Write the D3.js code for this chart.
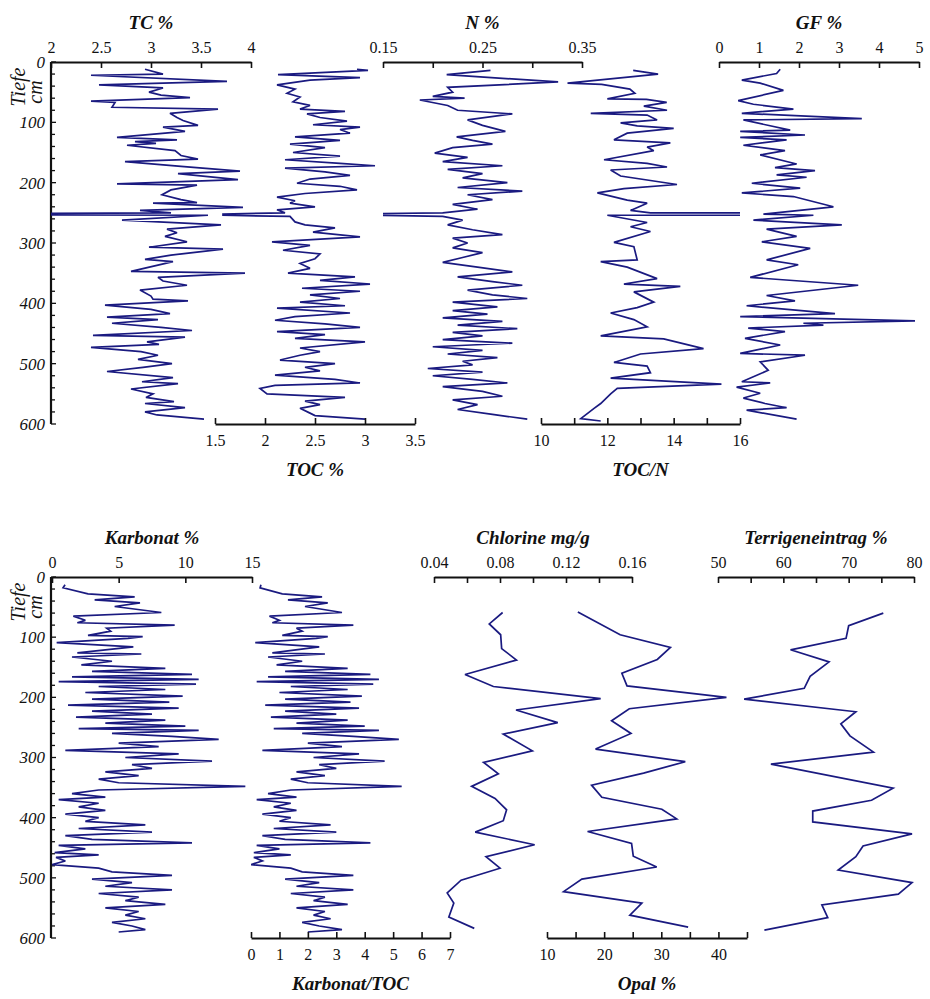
<!DOCTYPE html>
<html>
<head>
<meta charset="utf-8">
<script src="https://cdn.jsdelivr.net/npm/d3@7"></script>
<style>
  html, body { margin: 0; padding: 0; background: #ffffff; }
  svg { display: block; }
  text { font-family: "Liberation Serif", "DejaVu Serif", serif; fill: #111; }
</style>
</head>
<body>
<svg id="chart" width="930" height="999"></svg>
<script>
// ---------------- DATA (depth cm, value) ----------------
const tcData = [[12,2.94],[20,3.12],[22,2.40],[32,3.76],[38,2.48],[43,3.12],[50,2.98],[55,3.1],[59,3.39],[65,2.40],[67,2.64],[75,2.61],[78,3.67],[85,3.19],[92,3.26],[97,3.32],[105,3.47],[108,3.12],[115,3.34],[125,2.66],[129,3.26],[132,2.84],[135,3.05],[138,2.76],[147,3.24],[155,3.3],[161,3.47],[165,2.74],[173,3.3],[181,3.89],[185,3.27],[195,3.87],[202,2.66],[204,3.46],[212,3.2],[220,3.11],[228,3.3],[233,3.46],[234,3.02],[241,3.92],[246,2.89],[250,3.2],[252,0],[253,0],[254,3.57],[262,2.71],[270,3.70],[277,3.16],[283,3.26],[289,3.14],[298,3.36],[307,2.98],[310,3.72],[320,3.2],[327,2.94],[331,3.22],[347,2.80],[350,3.94],[357,3.07],[363,3.12],[370,3.36],[378,2.89],[388,3.0],[393,3.02],[396,3.37],[403,2.54],[410,3.0],[417,3.19],[423,2.56],[427,3.07],[433,2.61],[440,3.1],[445,3.41],[453,2.42],[456,3.34],[464,2.96],[468,3.08],[473,2.40],[480,2.9],[486,3.07],[493,2.87],[500,3.21],[506,2.92],[513,2.56],[523,3.22],[530,2.91],[533,3.27],[542,2.80],[550,3.02],[556,2.95],[563,3.23],[566,2.94],[573,3.34],[580,2.94],[585,3.06],[592,3.53]];

const tocData = [[12,2.92],[14,3.03],[21,2.13],[26,2.95],[30,2.45],[38,2.12],[45,2.30],[52,2.22],[58,2.35],[66,2.28],[72,2.45],[78,2.35],[82,2.80],[86,2.42],[92,2.55],[98,2.82],[104,2.48],[108,2.95],[112,2.75],[118,2.85],[124,2.30],[130,2.75],[136,2.25],[142,2.60],[150,2.28],[156,2.75],[162,2.20],[168,2.75],[172,3.10],[176,2.20],[182,2.60],[188,2.85],[194,2.45],[201,2.32],[206,2.75],[212,2.92],[218,2.40],[224,2.12],[230,2.30],[234,2.25],[240,2.50],[245,2.12],[250,2.20],[252,1.58],[254,1.58],[256,2.25],[265,2.30],[270,2.40],[275,2.70],[282,2.48],[290,2.95],[298,2.07],[304,2.45],[312,2.18],[318,2.55],[326,2.50],[334,2.35],[342,2.45],[350,2.23],[356,2.90],[362,2.55],[368,3.05],[375,2.37],[380,2.95],[386,2.45],[392,2.75],[398,2.35],[404,2.80],[408,2.12],[416,2.85],[422,2.30],[428,2.10],[434,2.60],[440,2.95],[447,2.12],[452,2.60],[458,2.30],[464,3.00],[474,2.35],[480,2.55],[486,2.35],[494,2.15],[500,2.70],[506,2.40],[512,2.55],[519,2.10],[526,2.70],[532,2.95],[536,2.10],[541,1.95],[550,2.02],[556,2.80],[562,2.40],[568,2.55],[574,2.35],[582,2.45],[586,2.50],[592,3.00]];

const nData = [[14,0.258],[21,0.214],[33,0.326],[42,0.215],[50,0.22],[57,0.20],[60,0.232],[63,0.187],[72,0.215],[80,0.225],[86,0.28],[96,0.235],[105,0.25],[115,0.273],[124,0.224],[130,0.24],[136,0.26],[142,0.22],[151,0.202],[158,0.235],[165,0.21],[172,0.27],[178,0.215],[185,0.25],[192,0.23],[200,0.275],[208,0.225],[214,0.29],[220,0.235],[228,0.26],[236,0.22],[244,0.245],[250,0.21],[252,0.10],[253,0.10],[256,0.21],[262,0.23],[270,0.215],[278,0.24],[286,0.27],[292,0.22],[300,0.235],[308,0.22],[316,0.25],[324,0.23],[332,0.21],[340,0.245],[348,0.28],[356,0.225],[364,0.26],[370,0.29],[378,0.235],[386,0.26],[392,0.295],[398,0.22],[406,0.265],[412,0.22],[418,0.255],[424,0.21],[430,0.27],[436,0.225],[442,0.285],[448,0.22],[454,0.25],[460,0.21],[466,0.28],[472,0.20],[478,0.25],[484,0.215],[490,0.265],[496,0.23],[502,0.24],[508,0.195],[514,0.25],[520,0.20],[526,0.24],[532,0.275],[538,0.21],[546,0.25],[554,0.27],[560,0.22],[568,0.245],[576,0.225],[584,0.26],[592,0.295]];

const tocnData = [[14,12.78],[20,13.53],[35,10.8],[37,11.83],[45,12.68],[52,12.83],[61,12.0],[62,13.18],[67,13.79],[73,13.1],[80,13.8],[85,11.5],[88,13.2],[96,13.5],[101,12.4],[106,12.9],[110,14.0],[118,12.6],[129,12.2],[134,13.9],[141,13.2],[147,13.4],[162,11.9],[168,13.2],[174,13.8],[179,12.1],[189,12.4],[203,14.1],[210,12.5],[217,11.7],[229,12.6],[234,13.2],[246,12.7],[250,13.3],[252,99],[253,99],[254,12.0],[266,13.2],[273,12.7],[281,13.3],[299,12.2],[306,12.8],[328,12.9],[331,11.8],[340,12.6],[359,13.5],[368,12.5],[372,14.2],[381,12.8],[398,13.4],[407,12.9],[416,12.1],[427,12.8],[439,13.2],[454,11.8],[459,13.7],[475,14.9],[484,13.0],[498,12.2],[504,13.2],[515,13.3],[524,12.1],[534,15.44],[541,12.3],[550,12.1],[566,11.8],[574,11.6],[591,11.2],[595,11.8]];

const gfData = [[12,1.53],[19,1.44],[30,0.57],[35,1.03],[47,1.61],[64,0.48],[70,0.86],[78,1.86],[85,0.57],[94,3.57],[96,0.61],[113,1.78],[115,0.53],[121,2.15],[125,0.53],[129,1.69],[138,0.61],[147,1.65],[154,1.03],[169,1.94],[175,1.4],[180,2.4],[187,1.44],[191,2.19],[201,0.82],[209,2.03],[217,0.57],[223,1.86],[240,2.86],[252,1.11],[254,2.36],[262,0.86],[270,3.07],[277,1.19],[289,1.94],[298,1.07],[309,2.28],[328,1.19],[336,1.98],[357,0.78],[370,3.48],[387,1.19],[396,1.9],[404,0.69],[417,2.9],[422,0.53],[429,4.9],[433,2.11],[436,2.61],[441,0.73],[447,1.65],[458,0.65],[469,1.53],[483,0.53],[486,2.15],[497,1.03],[511,1.23],[530,0.57],[532,1.28],[539,0.44],[549,1.03],[557,0.61],[566,1.15],[573,1.69],[577,0.69],[592,1.94]];

const karbData = [[13,0.98],[18,0.83],[28,2.7],[33,6.2],[38,3.2],[43,6.6],[49,4.7],[59,8.2],[65,1.6],[72,2.5],[76,1.9],[80,9.2],[85,4.1],[90,4.4],[97,2.7],[99,6.8],[102,5.7],[109,0.35],[116,6.1],[126,1.9],[128,6.7],[133,1.5],[140,4.5],[146,2.2],[152,8.5],[157,3.0],[162,10.5],[166,1.5],[170,11.0],[174,0.5],[178,10.8],[182,3.5],[187,8.5],[192,2.5],[198,9.8],[203,3.0],[208,8.8],[213,1.2],[218,9.5],[223,3.0],[228,7.5],[233,1.8],[238,8.5],[243,4.0],[248,10.0],[252,2.0],[255,11.0],[260,4.5],[265,9.0],[270,12.5],[276,5.0],[282,8.0],[288,1.0],[294,9.5],[300,5.5],[306,12.0],[312,6.0],[318,7.5],[324,4.0],[330,6.5],[336,3.5],[342,5.0],[348,14.5],[354,3.5],[360,1.5],[366,4.0],[370,0.5],[376,3.5],[382,2.0],[388,4.0],[394,1.0],[400,3.5],[406,2.5],[412,7.0],[418,2.0],[424,7.5],[430,1.0],[436,3.0],[442,10.5],[446,0.5],[452,2.5],[458,0.2],[462,3.5],[466,0.3],[472,1.0],[478,0.0],[484,3.5],[490,4.5],[496,9.0],[502,3.0],[508,6.0],[514,4.0],[520,9.0],[526,3.5],[532,6.5],[538,5.5],[544,8.5],[550,4.0],[556,6.5],[562,5.5],[568,7.0],[574,4.5],[580,6.0],[586,7.0],[590,5.0]];

const karbTocData = [[13,0.35],[18,0.32],[28,1.1],[33,2.5],[38,1.3],[43,2.7],[49,1.9],[59,3.2],[65,0.65],[72,1.0],[76,0.75],[80,3.6],[85,1.6],[90,1.8],[97,1.1],[99,2.7],[102,2.3],[109,0.15],[116,2.4],[126,0.75],[128,2.6],[133,0.6],[140,1.8],[146,0.9],[152,3.4],[157,1.2],[162,4.2],[166,0.6],[170,4.5],[174,0.2],[178,4.3],[182,1.4],[187,3.4],[192,1.0],[198,3.9],[203,1.2],[208,3.5],[213,0.5],[218,3.8],[223,1.2],[228,3.0],[233,0.7],[238,3.4],[243,1.6],[248,4.0],[252,0.8],[255,4.5],[260,1.8],[265,3.6],[270,5.2],[276,2.0],[282,3.2],[288,0.4],[294,3.8],[300,2.2],[306,4.7],[312,2.4],[318,3.0],[324,1.6],[330,2.6],[336,1.4],[342,2.0],[348,5.3],[354,1.4],[360,0.6],[366,1.6],[370,0.2],[376,1.4],[382,0.8],[388,1.6],[394,0.4],[400,1.4],[406,1.0],[412,2.8],[418,0.8],[424,3.0],[430,0.4],[436,1.2],[442,4.2],[446,0.2],[452,1.0],[458,0.1],[462,1.4],[466,0.1],[472,0.4],[478,0.0],[484,1.4],[490,1.8],[496,3.6],[502,1.2],[508,2.4],[514,1.6],[520,3.6],[526,1.4],[532,2.6],[538,2.2],[544,3.4],[550,1.6],[556,2.6],[562,2.2],[568,2.8],[574,1.8],[580,2.4],[586,3.2],[590,2.0]];

const chlorData = [[59,0.0816],[78,0.0735],[96,0.0804],[119,0.081],[138,0.090],[162,0.0588],[182,0.076],[202,0.141],[221,0.0897],[242,0.115],[261,0.082],[289,0.0996],[308,0.070],[327,0.079],[348,0.0628],[368,0.077],[387,0.084],[405,0.082],[424,0.065],[445,0.101],[465,0.0715],[484,0.080],[504,0.0564],[525,0.048],[542,0.052],[565,0.049],[584,0.0644]];

const opalData = [[58,15.4],[96,22.8],[117,31.6],[137,29.3],[160,23.1],[181,24.0],[200,41.4],[219,24.4],[239,21.3],[260,24.7],[286,18.5],[307,34.2],[326,26.9],[346,17.8],[366,19.6],[386,30.1],[402,32.7],[423,17.1],[443,24.8],[464,25.1],[482,29.2],[502,16.1],[523,12.9],[542,26.6],[562,24.5],[582,34.7]];

const terrData = [[60,75.3],[81,70.0],[102,69.6],[121,61.1],[141,67.0],[165,64.1],[185,63.2],[203,54.0],[224,71.1],[244,68.8],[264,70.2],[291,73.8],[311,58.1],[351,76.8],[371,73.5],[389,64.5],[407,64.5],[427,79.7],[447,72.2],[465,71.1],[487,68.4],[508,79.7],[527,77.6],[545,65.9],[566,66.8],[587,57.1]];

// tick values & labels
const depthMajor = [0,100,200,300,400,500,600];
const tcTicks = [2,2.5,3,3.5,4], tcLabels = ["2","2.5","3","3.5","4"];
const tocTicks = [1.5,2,2.5,3,3.5], tocLabels = ["1.5","2","2.5","3","3.5"];
const nTicks = [0.15,0.2,0.25,0.3,0.35], nLabels = ["0.15","","0.25","","0.35"];
const tocnTicks = [10,11,12,13,14,15,16], tocnLabels = ["10","","12","","14","","16"];
const gfTicks = [0,1,2,3,4,5], gfLabels = ["0","1","2","3","4","5"];
const karbTicks = [0,5,10,15], karbLabels = ["0","5","10","15"];
const karbTocTicks = [0,1,2,3,4,5,6,7], karbTocLabels = ["0","1","2","3","4","5","6","7"];
const chlorTicks = [0.04,0.06,0.08,0.10,0.12,0.14,0.16], chlorLabels = ["0.04","","0.08","","0.12","","0.16"];
const opalTicks = [10,15,20,25,30,35,40,45], opalLabels = ["10","","20","","30","","40",""];
const terrTicks = [50,55,60,65,70,75,80], terrLabels = ["50","","60","","70","","80"];

// ---------------- DRAWING ----------------
const svg = d3.select("#chart");
const LINE = "#1a1a80";

const panels = [
  { y0: 62, y1: 424, axisX: 51, tiefeY: 87 },
  { y0: 577, y1: 938, axisX: 51, tiefeY: 602 }
];
panels.forEach(p => { p.y = d3.scaleLinear().domain([0, 600]).range([p.y0, p.y1]); });

const columns = [
  { p: 0, data: tcData, dom: [2,4], r: [51,251], side: "top", ticks: tcTicks, labels: tcLabels, title: "TC %" },
  { p: 0, data: tocData, dom: [1.5,3.5], r: [215,415], side: "bottom", ticks: tocTicks, labels: tocLabels, title: "TOC %" },
  { p: 0, data: nData, dom: [0.15,0.35], r: [383,582], side: "top", ticks: nTicks, labels: nLabels, title: "N %" },
  { p: 0, data: tocnData, dom: [10,16], r: [541,740], side: "bottom", ticks: tocnTicks, labels: tocnLabels, title: "TOC/N" },
  { p: 0, data: gfData, dom: [0,5], r: [719,919], side: "top", ticks: gfTicks, labels: gfLabels, title: "GF %" },
  { p: 1, data: karbData, dom: [0,15], r: [52,252], side: "top", ticks: karbTicks, labels: karbLabels, title: "Karbonat %" },
  { p: 1, data: karbTocData, dom: [0,7], r: [251,450], side: "bottom", ticks: karbTocTicks, labels: karbTocLabels, title: "Karbonat/TOC" },
  { p: 1, data: chlorData, dom: [0.04,0.16], r: [434,632], side: "top", ticks: chlorTicks, labels: chlorLabels, title: "Chlorine mg/g" },
  { p: 1, data: opalData, dom: [10,45], r: [547,747], side: "bottom", ticks: opalTicks, labels: opalLabels, title: "Opal %" },
  { p: 1, data: terrData, dom: [50,80], r: [718,914], side: "top", ticks: terrTicks, labels: terrLabels, title: "Terrigeneintrag %" }
];

const defs = svg.append("defs");

// depth axes
panels.forEach((p, i) => {
  const g = svg.append("g");
  const minor = d3.range(0, 601, 20);
  g.selectAll("line.t").data(minor).join("line")
    .attr("x1", p.axisX).attr("x2", d => p.axisX + (d % 100 === 0 ? 5 : 4))
    .attr("y1", d => p.y(d)).attr("y2", d => p.y(d))
    .attr("stroke", "#111").attr("stroke-width", 1.3);
  g.append("line").attr("x1", p.axisX).attr("x2", p.axisX)
    .attr("y1", p.y(0)).attr("y2", p.y(600))
    .attr("stroke", "#111").attr("stroke-width", 2.2);
  g.selectAll("text.d").data(depthMajor).join("text")
    .attr("x", p.axisX - 6).attr("y", d => p.y(d)).attr("dy", "0.35em")
    .attr("text-anchor", "end").attr("font-style", "italic").attr("font-size", 17)
    .text(d => d);
  g.append("text").attr("transform", `translate(25,${p.tiefeY}) rotate(-90)`)
    .attr("text-anchor", "middle").attr("font-style", "italic").attr("font-size", 20)
    .text("Tiefe");
  g.append("text").attr("transform", `translate(42,${p.tiefeY + 5}) rotate(-90)`)
    .attr("text-anchor", "middle").attr("font-style", "italic").attr("font-size", 20)
    .text("cm");
});

columns.forEach((c, i) => {
  const p = panels[c.p];
  const x = d3.scaleLinear().domain(c.dom).range(c.r);
  const clipId = "clip" + i;
  defs.append("clipPath").attr("id", clipId).append("rect")
    .attr("x", c.r[0]).attr("y", p.y0 - 5)
    .attr("width", c.r[1] - c.r[0]).attr("height", p.y1 - p.y0 + 10);

  const line = d3.line().x(d => x(d[1])).y(d => p.y(d[0]));
  svg.append("path").datum(c.data)
    .attr("clip-path", `url(#${clipId})`)
    .attr("d", line).attr("fill", "none")
    .attr("stroke", LINE).attr("stroke-width", 1.7)
    .attr("stroke-linejoin", "miter").attr("stroke-miterlimit", 3);

  const axisY = c.side === "top" ? p.y0 : p.y1;
  const axis = (c.side === "top" ? d3.axisTop(x) : d3.axisBottom(x))
    .tickValues(c.ticks)
    .tickFormat((d, k) => c.labels[k])
    .tickSizeInner(-6).tickSizeOuter(0).tickPadding(c.side === "top" ? 9 : 11);
  const ag = svg.append("g").attr("transform", `translate(0,${axisY})`).call(axis);
  ag.select(".domain").attr("stroke", "#111").attr("stroke-width", 2.2);
  ag.selectAll(".tick line").attr("stroke", "#111").attr("stroke-width", 1.6);
  ag.selectAll(".tick text").attr("font-size", 16).attr("fill", "#111")
    .attr("font-family", "Liberation Serif, serif");

  const cx = (c.r[0] + c.r[1]) / 2;
  const ty = c.side === "top" ? axisY - 33 : axisY + 52;
  svg.append("text").attr("x", cx).attr("y", ty)
    .attr("text-anchor", "middle").attr("font-weight", "bold").attr("font-style", "italic")
    .attr("font-size", 19).text(c.title);
});
</script>
</body>
</html>
